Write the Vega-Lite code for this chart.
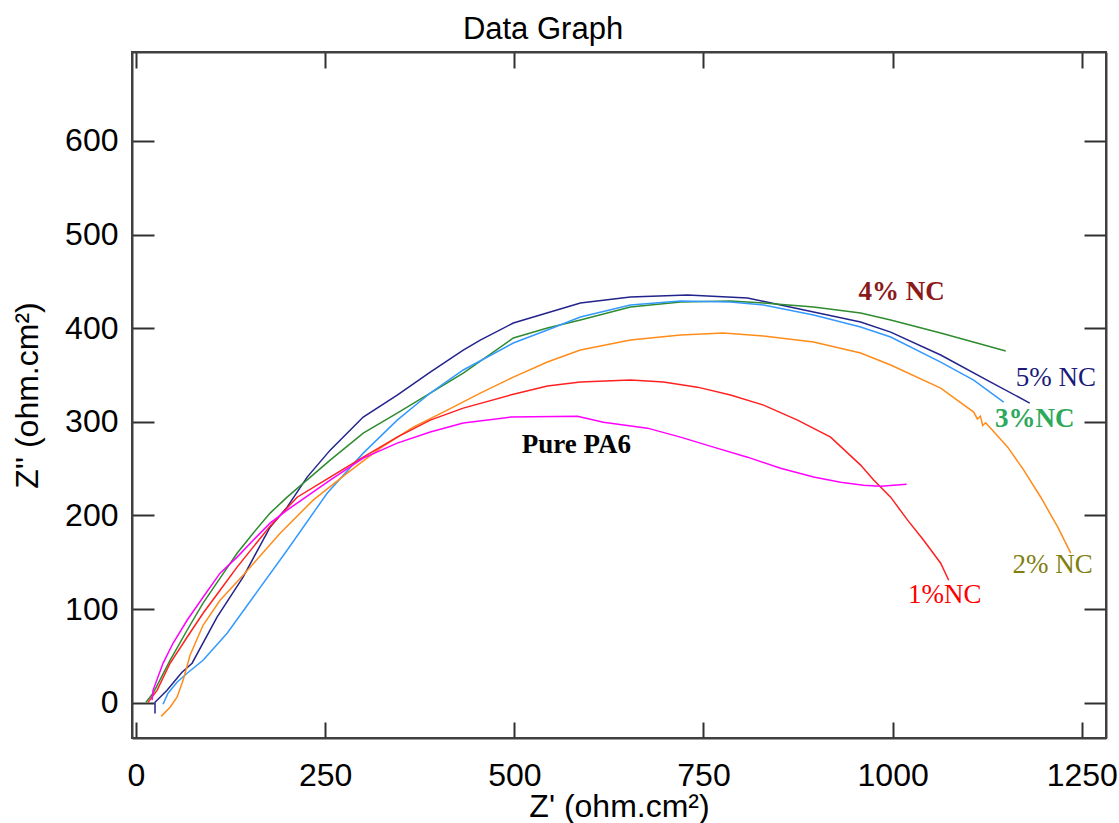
{
  "$schema": "https://vega.github.io/schema/vega-lite/v6.json",
  "width": 974,
  "height": 686,
  "autosize": {"type": "none"},
  "padding": {"left": 132, "top": 52, "right": 13, "bottom": 85},
  "background": "white",
  "config": {
    "view": {"stroke": "#404040", "strokeWidth": 2},
    "axis": {
      "grid": false,
      "domainColor": "#404040",
      "domainWidth": 2,
      "tickColor": "#303030",
      "tickWidth": 2,
      "labelFont": "Liberation Sans",
      "labelFontSize": 32,
      "labelColor": "black",
      "labelFlush": false,
      "labelOverlap": false,
      "format": "d",
      "titleFont": "Liberation Sans",
      "titleFontSize": 32,
      "titleFontWeight": "normal",
      "titleColor": "black"
    }
  },
  "title": {
    "text": "Data Graph",
    "font": "Liberation Sans",
    "fontSize": 31,
    "fontWeight": "normal",
    "color": "black",
    "anchor": "middle",
    "frame": "group",
    "dx": -76,
    "dy": 33,
    "offset": 14,
    "baseline": "alphabetic"
  },
  "datasets": {
    "curves": [
      {"series": "5% NC", "i": 0, "x": 25.1, "y": -11.6},
      {"series": "5% NC", "i": 1, "x": 25.1, "y": 0.3},
      {"series": "5% NC", "i": 2, "x": 41, "y": 13.1},
      {"series": "5% NC", "i": 3, "x": 60.8, "y": 32.4},
      {"series": "5% NC", "i": 4, "x": 74.1, "y": 42.1},
      {"series": "5% NC", "i": 5, "x": 107.1, "y": 91.3},
      {"series": "5% NC", "i": 6, "x": 141.5, "y": 134.1},
      {"series": "5% NC", "i": 7, "x": 177.2, "y": 187.4},
      {"series": "5% NC", "i": 8, "x": 199.7, "y": 208.8},
      {"series": "5% NC", "i": 9, "x": 226.2, "y": 240.9},
      {"series": "5% NC", "i": 10, "x": 256.6, "y": 269.7},
      {"series": "5% NC", "i": 11, "x": 300.3, "y": 305},
      {"series": "5% NC", "i": 12, "x": 345.2, "y": 328.5},
      {"series": "5% NC", "i": 13, "x": 388.9, "y": 353.1},
      {"series": "5% NC", "i": 14, "x": 432.5, "y": 376.6},
      {"series": "5% NC", "i": 15, "x": 455, "y": 387.3},
      {"series": "5% NC", "i": 16, "x": 498.7, "y": 405.5},
      {"series": "5% NC", "i": 17, "x": 587.3, "y": 426.9},
      {"series": "5% NC", "i": 18, "x": 653.4, "y": 433.3},
      {"series": "5% NC", "i": 19, "x": 728.8, "y": 435.4},
      {"series": "5% NC", "i": 20, "x": 808.2, "y": 432.2},
      {"series": "5% NC", "i": 21, "x": 851.9, "y": 424.7},
      {"series": "5% NC", "i": 22, "x": 895.5, "y": 417.2},
      {"series": "5% NC", "i": 23, "x": 957.7, "y": 406.5},
      {"series": "5% NC", "i": 24, "x": 997.4, "y": 395.8},
      {"series": "5% NC", "i": 25, "x": 1063.5, "y": 371.3},
      {"series": "5% NC", "i": 26, "x": 1129.6, "y": 342.4},
      {"series": "5% NC", "i": 27, "x": 1181.2, "y": 320},

      {"series": "4% NC", "i": 0, "x": 13.2, "y": 0.3},
      {"series": "4% NC", "i": 1, "x": 22.5, "y": 10},
      {"series": "4% NC", "i": 2, "x": 45, "y": 45.2},
      {"series": "4% NC", "i": 3, "x": 67.5, "y": 77.3},
      {"series": "4% NC", "i": 4, "x": 88.6, "y": 106.2},
      {"series": "4% NC", "i": 5, "x": 111.1, "y": 132.9},
      {"series": "4% NC", "i": 6, "x": 133.6, "y": 159.6},
      {"series": "4% NC", "i": 7, "x": 154.8, "y": 181},
      {"series": "4% NC", "i": 8, "x": 177.2, "y": 202.4},
      {"series": "4% NC", "i": 9, "x": 199.7, "y": 219.5},
      {"series": "4% NC", "i": 10, "x": 256.6, "y": 259},
      {"series": "4% NC", "i": 11, "x": 300.3, "y": 287.9},
      {"series": "4% NC", "i": 12, "x": 345.2, "y": 309.3},
      {"series": "4% NC", "i": 13, "x": 388.9, "y": 330.7},
      {"series": "4% NC", "i": 14, "x": 432.5, "y": 352},
      {"series": "4% NC", "i": 15, "x": 498.7, "y": 389.5},
      {"series": "4% NC", "i": 16, "x": 543.7, "y": 400.2},
      {"series": "4% NC", "i": 17, "x": 587.3, "y": 408.7},
      {"series": "4% NC", "i": 18, "x": 653.4, "y": 422.6},
      {"series": "4% NC", "i": 19, "x": 719.6, "y": 428},
      {"series": "4% NC", "i": 20, "x": 785.7, "y": 429},
      {"series": "4% NC", "i": 21, "x": 829.4, "y": 426.9},
      {"series": "4% NC", "i": 22, "x": 895.5, "y": 422.6},
      {"series": "4% NC", "i": 23, "x": 957.7, "y": 416.2},
      {"series": "4% NC", "i": 24, "x": 997.4, "y": 408.7},
      {"series": "4% NC", "i": 25, "x": 1063.5, "y": 394.8},
      {"series": "4% NC", "i": 26, "x": 1149.5, "y": 375.5},

      {"series": "3% NC", "i": 0, "x": 35.7, "y": -1.8},
      {"series": "3% NC", "i": 1, "x": 42.3, "y": 10},
      {"series": "3% NC", "i": 2, "x": 54.2, "y": 21.7},
      {"series": "3% NC", "i": 3, "x": 67.5, "y": 31.4},
      {"series": "3% NC", "i": 4, "x": 88.6, "y": 45.2},
      {"series": "3% NC", "i": 5, "x": 120.4, "y": 74.1},
      {"series": "3% NC", "i": 6, "x": 154.8, "y": 112.6},
      {"series": "3% NC", "i": 7, "x": 199.7, "y": 162.8},
      {"series": "3% NC", "i": 8, "x": 252.6, "y": 223.7},
      {"series": "3% NC", "i": 9, "x": 300.3, "y": 266.5},
      {"series": "3% NC", "i": 10, "x": 345.2, "y": 301.8},
      {"series": "3% NC", "i": 11, "x": 388.9, "y": 330.7},
      {"series": "3% NC", "i": 12, "x": 432.5, "y": 355.3},
      {"series": "3% NC", "i": 13, "x": 498.7, "y": 384.1},
      {"series": "3% NC", "i": 14, "x": 543.7, "y": 398},
      {"series": "3% NC", "i": 15, "x": 587.3, "y": 411.9},
      {"series": "3% NC", "i": 16, "x": 653.4, "y": 424.7},
      {"series": "3% NC", "i": 17, "x": 719.6, "y": 429},
      {"series": "3% NC", "i": 18, "x": 785.7, "y": 428},
      {"series": "3% NC", "i": 19, "x": 829.4, "y": 424.7},
      {"series": "3% NC", "i": 20, "x": 895.5, "y": 414},
      {"series": "3% NC", "i": 21, "x": 957.7, "y": 401.2},
      {"series": "3% NC", "i": 22, "x": 997.4, "y": 390.5},
      {"series": "3% NC", "i": 23, "x": 1063.5, "y": 363.8},
      {"series": "3% NC", "i": 24, "x": 1107.1, "y": 344.5},
      {"series": "3% NC", "i": 25, "x": 1146.8, "y": 321},

      {"series": "2% NC", "i": 0, "x": 33.1, "y": -14.7},
      {"series": "2% NC", "i": 1, "x": 45, "y": -5},
      {"series": "2% NC", "i": 2, "x": 54.2, "y": 5.7},
      {"series": "2% NC", "i": 3, "x": 62.2, "y": 23.8},
      {"series": "2% NC", "i": 4, "x": 71.4, "y": 50.6},
      {"series": "2% NC", "i": 5, "x": 88.6, "y": 82.6},
      {"series": "2% NC", "i": 6, "x": 111.1, "y": 109.3},
      {"series": "2% NC", "i": 7, "x": 141.5, "y": 136.1},
      {"series": "2% NC", "i": 8, "x": 190.5, "y": 181},
      {"series": "2% NC", "i": 9, "x": 234.1, "y": 216.3},
      {"series": "2% NC", "i": 10, "x": 279.1, "y": 245.2},
      {"series": "2% NC", "i": 11, "x": 322.8, "y": 271.8},
      {"series": "2% NC", "i": 12, "x": 366.4, "y": 294.3},
      {"series": "2% NC", "i": 13, "x": 411.4, "y": 312.4},
      {"series": "2% NC", "i": 14, "x": 455, "y": 330.6},
      {"series": "2% NC", "i": 15, "x": 498.7, "y": 347.7},
      {"series": "2% NC", "i": 16, "x": 543.7, "y": 363.8},
      {"series": "2% NC", "i": 17, "x": 587.3, "y": 376.6},
      {"series": "2% NC", "i": 18, "x": 653.4, "y": 387.3},
      {"series": "2% NC", "i": 19, "x": 719.6, "y": 392.7},
      {"series": "2% NC", "i": 20, "x": 776.5, "y": 394.8},
      {"series": "2% NC", "i": 21, "x": 829.4, "y": 391.6},
      {"series": "2% NC", "i": 22, "x": 895.5, "y": 385.2},
      {"series": "2% NC", "i": 23, "x": 957.7, "y": 373.4},
      {"series": "2% NC", "i": 24, "x": 997.4, "y": 360.6},
      {"series": "2% NC", "i": 25, "x": 1063.5, "y": 336},
      {"series": "2% NC", "i": 26, "x": 1107.1, "y": 310.3},
      {"series": "2% NC", "i": 27, "x": 1112, "y": 303},
      {"series": "2% NC", "i": 28, "x": 1116, "y": 306},
      {"series": "2% NC", "i": 29, "x": 1119, "y": 296},
      {"series": "2% NC", "i": 30, "x": 1123, "y": 299},
      {"series": "2% NC", "i": 31, "x": 1129.6, "y": 293.2},
      {"series": "2% NC", "i": 32, "x": 1152.1, "y": 272.9},
      {"series": "2% NC", "i": 33, "x": 1173.3, "y": 248.3},
      {"series": "2% NC", "i": 34, "x": 1195.8, "y": 219.4},
      {"series": "2% NC", "i": 35, "x": 1218.3, "y": 187.4},
      {"series": "2% NC", "i": 36, "x": 1235.4, "y": 159.6},

      {"series": "1% NC", "i": 0, "x": 15.9, "y": 0.3},
      {"series": "1% NC", "i": 1, "x": 27.8, "y": 13.1},
      {"series": "1% NC", "i": 2, "x": 45, "y": 42},
      {"series": "1% NC", "i": 3, "x": 67.5, "y": 69.8},
      {"series": "1% NC", "i": 4, "x": 88.6, "y": 95.5},
      {"series": "1% NC", "i": 5, "x": 111.1, "y": 120.1},
      {"series": "1% NC", "i": 6, "x": 133.6, "y": 144.7},
      {"series": "1% NC", "i": 7, "x": 154.8, "y": 166.1},
      {"series": "1% NC", "i": 8, "x": 177.2, "y": 188.5},
      {"series": "1% NC", "i": 9, "x": 213, "y": 219.4},
      {"series": "1% NC", "i": 10, "x": 256.6, "y": 240.9},
      {"series": "1% NC", "i": 11, "x": 300.3, "y": 262.3},
      {"series": "1% NC", "i": 12, "x": 345.2, "y": 283.6},
      {"series": "1% NC", "i": 13, "x": 388.9, "y": 301.8},
      {"series": "1% NC", "i": 14, "x": 432.5, "y": 314.6},
      {"series": "1% NC", "i": 15, "x": 494.7, "y": 328.5},
      {"series": "1% NC", "i": 16, "x": 543.7, "y": 338.1},
      {"series": "1% NC", "i": 17, "x": 587.3, "y": 342.4},
      {"series": "1% NC", "i": 18, "x": 653.4, "y": 344.5},
      {"series": "1% NC", "i": 19, "x": 697.1, "y": 342.4},
      {"series": "1% NC", "i": 20, "x": 742.1, "y": 337},
      {"series": "1% NC", "i": 21, "x": 785.7, "y": 328.5},
      {"series": "1% NC", "i": 22, "x": 829.4, "y": 317.8},
      {"series": "1% NC", "i": 23, "x": 874.3, "y": 301.8},
      {"series": "1% NC", "i": 24, "x": 918, "y": 283.6},
      {"series": "1% NC", "i": 25, "x": 957.7, "y": 253.7},
      {"series": "1% NC", "i": 26, "x": 974.9, "y": 237.7},
      {"series": "1% NC", "i": 27, "x": 997.4, "y": 219.5},
      {"series": "1% NC", "i": 28, "x": 1019.8, "y": 194.9},
      {"series": "1% NC", "i": 29, "x": 1041, "y": 173.5},
      {"series": "1% NC", "i": 30, "x": 1063.5, "y": 148.9},
      {"series": "1% NC", "i": 31, "x": 1074.1, "y": 130.7},

      {"series": "Pure PA6", "i": 0, "x": 21.2, "y": 2.5},
      {"series": "Pure PA6", "i": 1, "x": 22.5, "y": 13.1},
      {"series": "Pure PA6", "i": 2, "x": 35.7, "y": 42},
      {"series": "Pure PA6", "i": 3, "x": 48.9, "y": 63.4},
      {"series": "Pure PA6", "i": 4, "x": 67.5, "y": 88},
      {"series": "Pure PA6", "i": 5, "x": 88.6, "y": 112.6},
      {"series": "Pure PA6", "i": 6, "x": 111.1, "y": 138.3},
      {"series": "Pure PA6", "i": 7, "x": 133.6, "y": 155.4},
      {"series": "Pure PA6", "i": 8, "x": 154.8, "y": 173.5},
      {"series": "Pure PA6", "i": 9, "x": 177.2, "y": 191.7},
      {"series": "Pure PA6", "i": 10, "x": 199.7, "y": 205.6},
      {"series": "Pure PA6", "i": 11, "x": 256.6, "y": 237.7},
      {"series": "Pure PA6", "i": 12, "x": 300.3, "y": 261.2},
      {"series": "Pure PA6", "i": 13, "x": 345.2, "y": 277.2},
      {"series": "Pure PA6", "i": 14, "x": 388.9, "y": 289},
      {"series": "Pure PA6", "i": 15, "x": 432.5, "y": 298.6},
      {"series": "Pure PA6", "i": 16, "x": 494.7, "y": 305},
      {"series": "Pure PA6", "i": 17, "x": 583.3, "y": 306},
      {"series": "Pure PA6", "i": 18, "x": 617.7, "y": 299.6},
      {"series": "Pure PA6", "i": 19, "x": 675.9, "y": 293.2},
      {"series": "Pure PA6", "i": 20, "x": 719.6, "y": 283.6},
      {"series": "Pure PA6", "i": 21, "x": 763.2, "y": 272.9},
      {"series": "Pure PA6", "i": 22, "x": 808.2, "y": 262.2},
      {"series": "Pure PA6", "i": 23, "x": 851.9, "y": 250.4},
      {"series": "Pure PA6", "i": 24, "x": 895.5, "y": 240.9},
      {"series": "Pure PA6", "i": 25, "x": 931.2, "y": 235.5},
      {"series": "Pure PA6", "i": 26, "x": 961.6, "y": 232.3},
      {"series": "Pure PA6", "i": 27, "x": 984.1, "y": 231.2},
      {"series": "Pure PA6", "i": 28, "x": 1018.5, "y": 233.3}
    ],
    "labels": [
      {"label": "4% NC", "x": 1012, "y": 438.8},
      {"label": "5% NC", "x": 1215.6, "y": 346.7},
      {"label": "3%NC", "x": 1187.8, "y": 302.8},
      {"label": "2% NC", "x": 1211.6, "y": 146.8},
      {"label": "1%NC", "x": 1068.8, "y": 114.7},
      {"label": "Pure PA6", "x": 582, "y": 275}
    ]
  },
  "layer": [
    {
      "data": {"name": "curves"},
      "mark": {"type": "line", "strokeWidth": 1.5, "clip": true},
      "encoding": {
        "x": {
          "field": "x", "type": "quantitative",
          "scale": {"domain": [-5.3, 1282], "nice": false, "zero": false},
          "axis": {
            "orient": "bottom",
            "values": [0, 250, 500, 750, 1000, 1250],
            "tickSize": -16,
            "labelPadding": 38,
            "title": "Z' (ohm.cm²)",
            "titleY": 78,
            "titleBaseline": "alphabetic"
          }
        },
        "y": {
          "field": "y", "type": "quantitative",
          "scale": {"domain": [-37.8, 695], "nice": false, "zero": false},
          "axis": {
            "orient": "left",
            "values": [0, 100, 200, 300, 400, 500, 600],
            "tickSize": -22,
            "labelPadding": 36,
            "title": "Z'' (ohm.cm²)",
            "titleX": -95,
            "titleY": 343,
            "titleAngle": -90,
            "titleAlign": "center",
            "titleBaseline": "alphabetic"
          }
        },
        "color": {
          "field": "series", "type": "nominal",
          "scale": {
            "domain": ["5% NC", "4% NC", "3% NC", "2% NC", "1% NC", "Pure PA6"],
            "range": ["#23238c", "#2e8b2e", "#3399ff", "#ff8c1a", "#ff2020", "#ff00ff"]
          },
          "legend": null
        },
        "order": {"field": "i", "type": "quantitative"}
      }
    },
    {
      "data": {"name": "labels"},
      "transform": [{"filter": {"field": "label", "oneOf": ["4% NC", "3%NC", "Pure PA6"]}}],
      "mark": {"type": "text", "font": "Liberation Serif", "fontSize": 27, "fontWeight": "bold", "align": "center", "baseline": "middle"},
      "encoding": {
        "x": {
          "field": "x", "type": "quantitative",
          "axis": {"orient": "top", "values": [0, 250, 500, 750, 1000, 1250], "tickSize": -16, "labels": false, "title": null}
        },
        "y": {
          "field": "y", "type": "quantitative",
          "axis": {"orient": "right", "values": [0, 100, 200, 300, 400, 500, 600], "tickSize": -22, "labels": false, "title": null}
        },
        "text": {"field": "label"},
        "color": {
          "field": "label", "type": "nominal",
          "scale": {"domain": ["4% NC", "3%NC", "Pure PA6"], "range": ["#8b1a1a", "#2ea85a", "#000000"]},
          "legend": null
        }
      }
    },
    {
      "data": {"name": "labels"},
      "transform": [{"filter": {"field": "label", "oneOf": ["5% NC", "2% NC", "1%NC"]}}],
      "mark": {"type": "text", "font": "Liberation Serif", "fontSize": 27, "align": "center", "baseline": "middle"},
      "encoding": {
        "x": {"field": "x", "type": "quantitative", "axis": null},
        "y": {"field": "y", "type": "quantitative", "axis": null},
        "text": {"field": "label"},
        "color": {
          "field": "label", "type": "nominal",
          "scale": {"domain": ["5% NC", "2% NC", "1%NC"], "range": ["#1a1a7a", "#808010", "#ff0000"]},
          "legend": null
        }
      }
    }
  ],
  "resolve": {
    "scale": {"color": "independent"},
    "axis": {"x": "independent", "y": "independent"}
  }
}
